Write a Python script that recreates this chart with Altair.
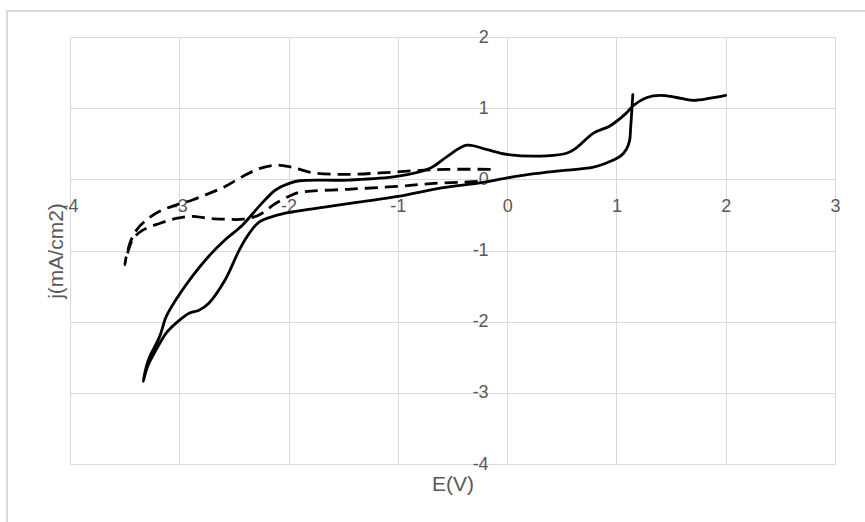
import altair as alt
import pandas as pd

# ---- data (E in V, j in mA/cm2), in scan order ----
solid_E = [1.15, 1.14, 1.13, 1.12, 1.09, 1.04, 0.94, 0.79, 0.48, 0.25, 0.0, -0.25, -0.6, -1.0,
           -1.36, -1.67, -1.97, -2.12, -2.27, -2.36, -2.45, -2.58, -2.73, -2.82, -2.91, -3.03,
           -3.12, -3.21, -3.29, -3.33,
           -3.30, -3.27, -3.18, -3.12, -3.03, -2.88, -2.73, -2.58, -2.42, -2.27, -2.12, -2.0,
           -1.9, -1.46, -1.01, -0.70, -0.55, -0.37, -0.19, 0.0, 0.36, 0.55, 0.64, 0.79, 0.94,
           1.09, 1.15, 1.28, 1.4, 1.55, 1.7, 1.86, 2.0]
solid_j = [1.19, 0.95, 0.72, 0.54, 0.42, 0.33, 0.25, 0.17, 0.12, 0.08, 0.02, -0.05, -0.12, -0.24,
           -0.32, -0.39, -0.46, -0.51, -0.60, -0.76, -0.99, -1.41, -1.74, -1.84, -1.88, -2.02,
           -2.16, -2.39, -2.63, -2.84,
           -2.62, -2.49, -2.21, -1.93, -1.69, -1.36, -1.08, -0.85, -0.64, -0.38, -0.15, -0.06,
           -0.02, -0.01, 0.04, 0.16, 0.32, 0.48, 0.42, 0.35, 0.33, 0.37, 0.45, 0.65, 0.75,
           0.93, 1.03, 1.15, 1.18, 1.15, 1.11, 1.14, 1.18]

dash_E = [-0.27, -0.40, -0.70, -1.01, -1.46, -1.89, -1.97, -2.12, -2.27, -2.42, -2.58, -2.73,
          -2.88, -3.03, -3.18, -3.33, -3.42, -3.46, -3.50,
          -3.47, -3.44, -3.39, -3.30, -3.18, -3.03, -2.88, -2.73, -2.58, -2.42, -2.27, -2.11,
          -1.97, -1.77, -1.46, -1.16, -0.86, -0.56, -0.13]
dash_j = [-0.03, -0.04, -0.06, -0.10, -0.14, -0.18, -0.22, -0.34, -0.50, -0.56, -0.56, -0.55,
          -0.52, -0.55, -0.62, -0.71, -0.83, -0.97, -1.20,
          -0.99, -0.85, -0.71, -0.57, -0.45, -0.36, -0.29, -0.20, -0.10, 0.04, 0.15, 0.20,
          0.17, 0.09, 0.07, 0.09, 0.12, 0.14, 0.14]

x_ticks = [-4, -3, -2, -1, 0, 1, 2, 3]
y_ticks = [-4, -3, -2, -1, 0, 1, 2]
x_title = "E(V)"
y_title = "j(mA/cm2)"

solid = pd.DataFrame({"E": solid_E, "j": solid_j, "i": list(range(len(solid_E)))})
dash = pd.DataFrame({"E": dash_E, "j": dash_j, "i": list(range(len(dash_E)))})

# ---- layout ----
W, H = 765, 427
XMIN, XMAX = x_ticks[0], x_ticks[-1]
YMIN, YMAX = y_ticks[0], y_ticks[-1]
x0_px = W * (0 - XMIN) / (XMAX - XMIN)          # pixel of E = 0
y0_px = H * (YMAX - 0) / (YMAX - YMIN)          # pixel of j = 0 (from top)

GRID = "#d9d9d9"
TXT = "#595959"
FONT = "Liberation Sans"

x_scale = alt.Scale(domain=[XMIN, XMAX], nice=False, zero=False)
y_scale = alt.Scale(domain=[YMIN, YMAX], nice=False, zero=False)

x_axis = alt.Axis(values=x_ticks, offset=-(H - y0_px), grid=True, gridColor=GRID, gridWidth=1,
                  domain=False, ticks=False, labelPadding=18, labelBaseline="top",
                  labelFontSize=18, labelColor=TXT, labelFont=FONT, labelFlush=False,
                  labelOverlap=False, labelExpr="'' + datum.value",
                  title=x_title, titleFontSize=21, titleFont=FONT, titleColor=TXT,
                  titleFontWeight="normal", titleBaseline="middle", titleY=(H - y0_px) + 20)
y_axis = alt.Axis(values=y_ticks, offset=-x0_px, grid=True, gridColor=GRID, gridWidth=1,
                  domain=False, ticks=False, labelPadding=19, labelAlign="right",
                  labelBaseline="middle", labelFontSize=18, labelColor=TXT, labelFont=FONT,
                  labelFlush=False, labelOverlap=False, labelExpr="'' + datum.value",
                  title=y_title, titleFontSize=21, titleFont=FONT, titleColor=TXT,
                  titleFontWeight="normal", titleAngle=-90, titleAlign="center",
                  titleBaseline="middle", titleX=-x0_px - 14, titleY=H / 2)

frame = alt.Chart(pd.DataFrame({"a": [0]})).mark_rect(
    fillOpacity=0, stroke=GRID, strokeWidth=2
).encode(x=alt.value(-63), x2=alt.value(910), y=alt.value(-26), y2=alt.value(620))

solid_line = alt.Chart(solid).mark_line(
    color="black", strokeWidth=2.8, interpolate="catmull-rom", strokeCap="round", strokeJoin="round"
).encode(
    x=alt.X("E:Q", scale=x_scale, axis=x_axis),
    y=alt.Y("j:Q", scale=y_scale, axis=y_axis),
    order="i:Q",
)

dash_line = alt.Chart(dash).mark_line(
    color="black", strokeWidth=2.8, interpolate="catmull-rom", strokeDash=[13, 7]
).encode(
    x=alt.X("E:Q", scale=x_scale),
    y=alt.Y("j:Q", scale=y_scale),
    order="i:Q",
)

chart = alt.layer(frame, solid_line, dash_line).properties(
    width=W, height=H,
    autosize=alt.AutoSizeParams(type="none"),
    padding={"left": 70, "top": 37, "right": 30, "bottom": 58},
    background="white",
).configure_view(stroke=None)

chart.save("out.html", embed_options={"renderer": "svg", "actions": False})
